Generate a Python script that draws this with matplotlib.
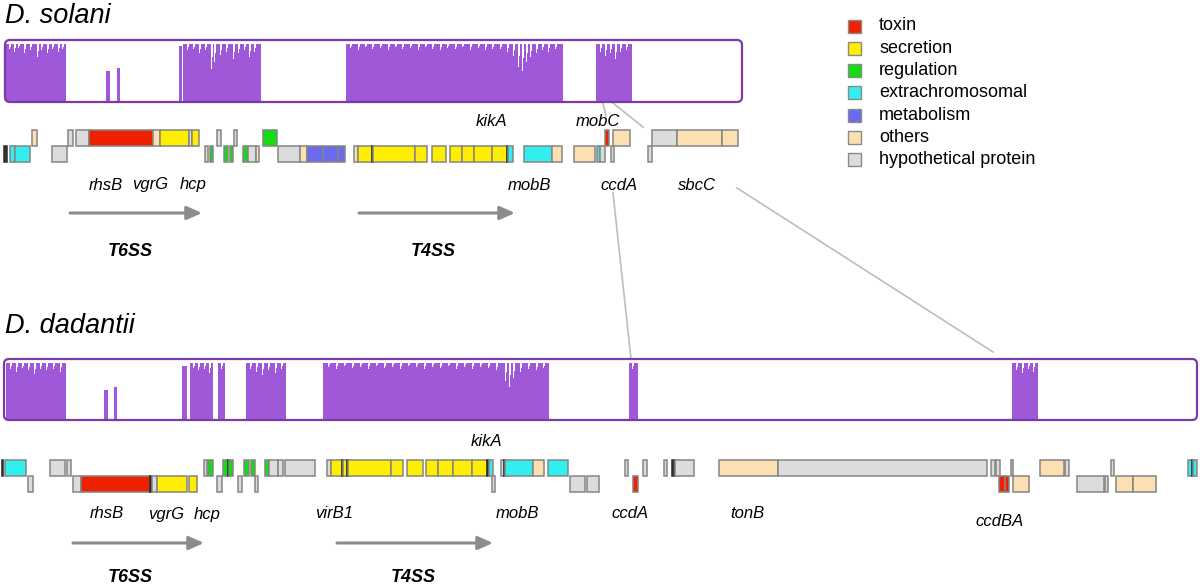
import numpy as np
import matplotlib
matplotlib.use("Agg")
import matplotlib.pyplot as plt
from matplotlib.patches import Rectangle, FancyBboxPatch

plt.rcParams['font.family'] = ['Liberation Sans', 'DejaVu Sans']

# ---------------- data ----------------
categories = ["toxin", "secretion", "regulation", "extrachromosomal",
              "metabolism", "others", "hypothetical protein"]
cat_codes = ["t", "s", "r", "e", "m", "o", "h"]
cat_colors = {"t": "#ee2200", "s": "#ffee00", "r": "#11dd11", "e": "#33eeee",
              "m": "#6b6bee", "o": "#fde0b2", "h": "#dcdcdc", "k": "#3a3a3a"}

# genes: (start, end, row, category)  row u = upper strand, l = lower strand
genes_solani = [
    (4, 7, "l", "k"), (10, 15, "l", "e"), (15, 30, "l", "e"), (32, 37, "u", "o"),
    (52, 67, "l", "h"), (68, 73, "u", "h"), (76, 89, "u", "h"), (89, 153, "u", "t"),
    (153, 160, "u", "o"), (160, 189, "u", "s"), (189, 192, "u", "h"), (192, 199, "u", "s"),
    (205, 208, "l", "h"), (210, 213, "l", "r"), (217, 221, "u", "h"), (224, 228, "l", "r"),
    (230, 233, "l", "r"), (234, 237, "u", "h"), (243, 248, "l", "r"), (248, 256, "l", "h"),
    (256, 259, "l", "o"), (263, 277, "u", "r"), (278, 300, "l", "h"), (300, 307, "l", "o"),
    (307, 323, "l", "m"), (323, 338, "l", "m"), (338, 345, "l", "m"), (354, 358, "l", "o"),
    (358, 372, "l", "s"), (372, 373, "l", "k"), (373, 415, "l", "s"), (415, 427, "l", "s"),
    (432, 446, "l", "s"), (450, 462, "l", "s"), (462, 474, "l", "s"), (474, 492, "l", "s"),
    (492, 507, "l", "s"), (507, 508, "l", "k"), (508, 513, "l", "e"), (524, 552, "l", "e"),
    (552, 562, "l", "o"), (574, 595, "l", "o"), (597, 600, "l", "e"), (600, 605, "l", "h"),
    (605, 609, "u", "t"), (611, 614, "l", "h"), (613, 630, "u", "o"), (648, 652, "l", "h"),
    (652, 677, "u", "h"), (677, 722, "u", "o"), (722, 738, "u", "o"),
]

genes_dadantii = [
    (2, 3, "u", "k"), (5, 26, "u", "e"), (28, 33, "l", "h"), (50, 65, "u", "h"),
    (67, 71, "u", "h"), (73, 81, "l", "h"), (81, 150, "l", "t"), (150, 152, "l", "k"),
    (152, 157, "l", "h"), (157, 187, "l", "s"), (189, 197, "l", "s"), (204, 207, "u", "h"),
    (208, 213, "u", "r"), (217, 222, "l", "h"), (223, 228, "u", "r"), (228, 229, "u", "k"),
    (229, 233, "u", "r"), (238, 242, "l", "h"), (244, 249, "u", "r"), (251, 255, "u", "r"),
    (255, 258, "l", "h"), (265, 269, "u", "r"), (269, 278, "u", "h"), (278, 283, "u", "h"),
    (285, 315, "u", "h"), (327, 331, "u", "h"), (331, 342, "u", "s"), (342, 343, "u", "k"),
    (343, 347, "u", "s"), (347, 348, "u", "k"), (348, 391, "u", "s"), (391, 403, "u", "s"),
    (407, 423, "u", "s"), (426, 438, "u", "s"), (438, 453, "u", "s"), (453, 472, "u", "s"),
    (472, 487, "u", "s"), (487, 489, "u", "k"), (489, 493, "u", "e"), (492, 495, "l", "h"),
    (501, 504, "u", "h"), (504, 505, "u", "k"), (505, 533, "u", "e"), (533, 544, "u", "o"),
    (548, 568, "u", "e"), (570, 585, "l", "h"), (587, 599, "l", "h"), (625, 628, "u", "h"),
    (633, 638, "l", "t"), (643, 647, "u", "h"), (664, 667, "u", "h"), (672, 675, "u", "k"),
    (675, 694, "u", "h"), (719, 778, "u", "o"), (778, 987, "u", "h"), (991, 995, "u", "h"),
    (996, 1000, "u", "h"), (999, 1005, "l", "t"), (1005, 1009, "l", "t"), (1011, 1013, "u", "h"),
    (1013, 1029, "l", "o"), (1040, 1064, "u", "o"), (1065, 1069, "u", "h"), (1077, 1104, "l", "h"),
    (1105, 1108, "l", "h"), (1111, 1114, "u", "h"), (1116, 1133, "l", "o"), (1133, 1156, "l", "o"),
    (1188, 1192, "u", "e"), (1192, 1193, "u", "k"), (1193, 1197, "u", "e"),
]

# coverage (read coverage against reference): blocks, spikes, dips
cov_solani_blocks = [(6, 65), (183, 260), (346, 562), (596, 631)]
cov_solani_spikes = [(106, 109, 0.5), (117, 119, 0.55), (179, 181, 0.93)]
cov_solani_dips = [
    (9, 0.08), (14, 0.12), (18, 0.06), (24, 0.15), (30, 0.1), (37, 0.22), (41, 0.1),
    (47, 0.14), (52, 0.08), (58, 0.12), (62, 0.07),
    (187, 0.1), (193, 0.08), (199, 0.14), (205, 0.1), (211, 0.42), (214, 0.3), (220, 0.18),
    (226, 0.12), (233, 0.25), (238, 0.15), (244, 0.1), (249, 0.22), (254, 0.12),
    (350, 0.06), (358, 0.1), (365, 0.05), (372, 0.08), (380, 0.06), (388, 0.1), (395, 0.05),
    (402, 0.08), (410, 0.06), (418, 0.09), (425, 0.05), (432, 0.07), (440, 0.1), (447, 0.06),
    (455, 0.08), (462, 0.05), (470, 0.09), (478, 0.06), (485, 0.1), (492, 0.07), (500, 0.08),
    (507, 0.12), (513, 0.2), (518, 0.38), (522, 0.45), (526, 0.3), (530, 0.22), (536, 0.15),
    (542, 0.1), (548, 0.12), (555, 0.08),
    (600, 0.12), (605, 0.2), (610, 0.15), (615, 0.25), (620, 0.12), (626, 0.1),
]

cov_dadantii_blocks = [(6, 65), (190, 212), (218, 224), (246, 285), (323, 548),
                       (629, 637), (1012, 1037)]
cov_dadantii_spikes = [(104, 107, 0.5), (114, 116, 0.55), (182, 186, 0.9)]
cov_dadantii_dips = [
    (10, 0.1), (16, 0.14), (22, 0.08), (28, 0.12), (34, 0.18), (40, 0.1), (46, 0.12),
    (53, 0.09), (60, 0.14),
    (193, 0.08), (198, 0.12), (204, 0.1), (209, 0.16), (221, 0.1),
    (250, 0.1), (256, 0.14), (262, 0.2), (268, 0.12), (275, 0.16), (281, 0.1),
    (328, 0.06), (336, 0.1), (344, 0.05), (352, 0.08), (360, 0.06), (368, 0.09), (376, 0.05),
    (384, 0.08), (392, 0.06), (400, 0.1), (408, 0.05), (416, 0.07), (424, 0.09), (432, 0.06),
    (440, 0.08), (448, 0.05), (456, 0.09), (464, 0.06), (472, 0.1), (480, 0.07), (488, 0.08),
    (496, 0.12), (505, 0.3), (509, 0.4), (513, 0.25), (520, 0.15), (528, 0.1), (536, 0.12),
    (543, 0.08),
    (632, 0.1),
    (1016, 0.12), (1022, 0.16), (1028, 0.1), (1033, 0.14),
]

labels_solani = [("rhsB", 106), ("vgrG", 150), ("hcp", 193), ("mobB", 529),
                 ("ccdA", 619), ("sbcC", 697)]
labels_solani_top = [("kikA", 492), ("mobC", 598)]
labels_dadantii = [("rhsB", 107), ("vgrG", 166), ("hcp", 207), ("virB1", 334),
                   ("mobB", 517), ("ccdA", 630), ("tonB", 747)]
labels_dadantii_top = [("kikA", 487)]
systems_solani = [("T6SS", 70, 202, 130), ("T4SS", 359, 515, 433)]
systems_dadantii = [("T6SS", 73, 204, 130), ("T4SS", 337, 493, 413)]

# ---------------- drawing ----------------
fig = plt.figure(figsize=(12, 5.87), dpi=100)
ax = fig.add_axes([0, 0, 1, 1])
ax.set_xlim(0, 1200)
ax.set_ylim(587, 0)
ax.axis("off")

PURPLE = "#9e58d8"
EDGE = "#7a3aa8"
ROW_H = 16


def coverage(x0, x1, y0, y1, blocks, spikes, dips):
    box = FancyBboxPatch((x0, y0), x1 - x0, y1 - y0,
                         boxstyle="round,pad=0,rounding_size=5",
                         facecolor="white", edgecolor="none", zorder=1)
    ax.add_patch(box)
    n = int(x1) + 2
    h = np.zeros(n)
    for a, b in blocks:
        h[a:b + 1] = 0.95
    for a, b, v in spikes:
        h[a:b + 1] = v
    for xp, d in dips:
        h[xp] = max(h[xp] - d, 0)
        h[xp + 1] = max(h[xp + 1] - d * 0.5, 0)
    xs = np.arange(n)
    base = y1 - 1.5
    H = (y1 - y0) - 3
    poly = ax.fill_between(xs, base, base - h * H, step="mid",
                           color=PURPLE, lw=0, zorder=2)
    poly.set_clip_path(box)
    border = FancyBboxPatch((x0, y0), x1 - x0, y1 - y0,
                            boxstyle="round,pad=0,rounding_size=5",
                            facecolor="none", edgecolor=EDGE, lw=1.6, zorder=3)
    ax.add_patch(border)


def genes(glist, y_upper):
    for a, b, row, c in glist:
        y = y_upper if row == "u" else y_upper + ROW_H
        ec = "#2a2a2a" if c == "k" else "#858585"
        ax.add_patch(Rectangle((a, y), b - a, ROW_H, facecolor=cat_colors[c],
                               edgecolor=ec, lw=1.1, zorder=4))


def arrow(x0, x1, y):
    ax.annotate("", xy=(x1, y), xytext=(x0, y),
                arrowprops=dict(arrowstyle="-|>,head_length=0.9,head_width=0.4",
                                color="#8c8c8c", lw=2.2, shrinkA=0, shrinkB=0))


# titles
ax.text(5, 16, "D. solani", fontsize=19.5, style="italic", va="center", ha="left")
ax.text(5, 326, "D. dadantii", fontsize=19.5, style="italic", va="center", ha="left")

# coverage tracks
coverage(5, 742, 40, 102, cov_solani_blocks, cov_solani_spikes, cov_solani_dips)
coverage(4, 1197, 359, 420, cov_dadantii_blocks, cov_dadantii_spikes, cov_dadantii_dips)

# gene tracks
genes(genes_solani, 130)
genes(genes_dadantii, 460)

# connector lines
LC = "#bdbdbd"
for (xa, ya, xb, yb) in [(603, 103, 606, 116), (613, 103, 643, 127),
                         (613, 193, 631, 359), (737, 188, 993, 352)]:
    ax.plot([xa, xb], [ya, yb], color=LC, lw=1.2, zorder=0)

# gene labels
for name, x in labels_solani:
    ax.text(x, 185, name, fontsize=12, style="italic", ha="center", va="center")
for name, x in labels_solani_top:
    ax.text(x, 121, name, fontsize=12, style="italic", ha="center", va="center")
for name, x in labels_dadantii:
    ax.text(x, 514, name, fontsize=12, style="italic", ha="center", va="center")
ax.text(1000, 521, "ccdBA", fontsize=12, style="italic", ha="center", va="center")
for name, x in labels_dadantii_top:
    ax.text(x, 442, name, fontsize=12, style="italic", ha="center", va="center")

# secretion systems
for name, x0, x1, xt in systems_solani:
    arrow(x0, x1, 213)
    ax.text(xt, 251, name, fontsize=13, style="italic", weight="bold",
            ha="center", va="center")
for name, x0, x1, xt in systems_dadantii:
    arrow(x0, x1, 543)
    ax.text(xt, 578, name, fontsize=13, style="italic", weight="bold",
            ha="center", va="center")

# legend
for i, (name, c) in enumerate(zip(categories, cat_codes)):
    y = 26 + i * 22.3
    ax.add_patch(Rectangle((848, y - 6.5), 13, 13, facecolor=cat_colors[c],
                           edgecolor="#8a8a8a", lw=1.0, zorder=4))
    ax.text(879, y, name, fontsize=13, ha="left", va="center")

fig.savefig("out.png", dpi=100)
